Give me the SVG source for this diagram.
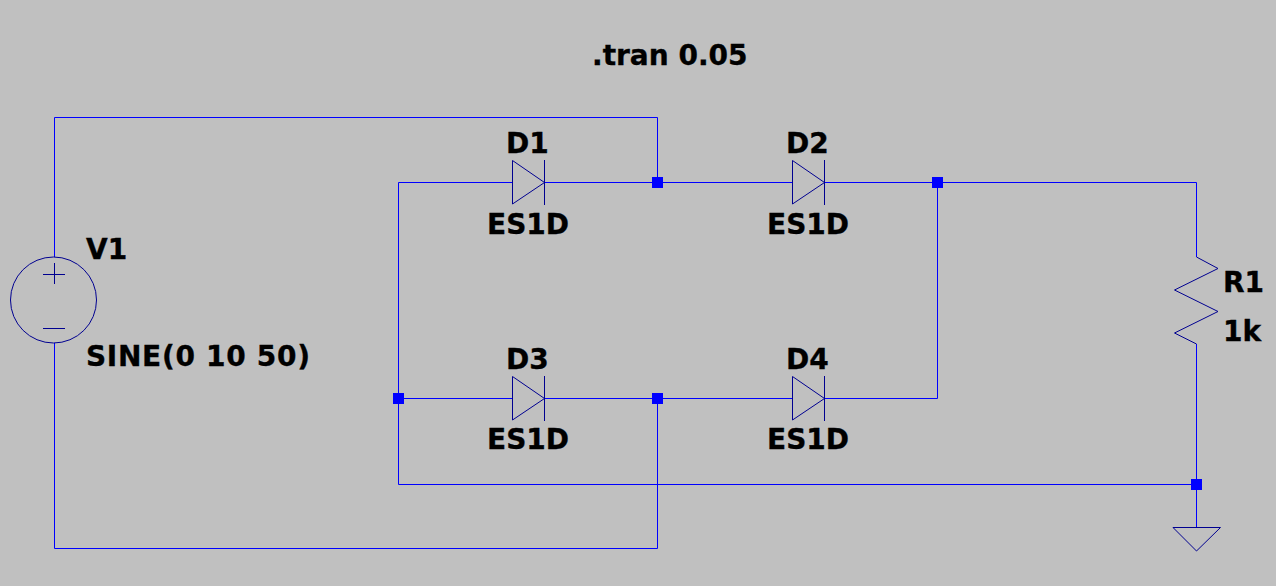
<svg xmlns="http://www.w3.org/2000/svg" width="1276" height="586" viewBox="0 0 1276 586">
<style>
text{font-family:"DejaVu Sans",Verdana,sans-serif;font-weight:700;font-size:28px;fill:#000;stroke:#000;stroke-width:.35}
.w{fill:none;stroke:#0000ff;stroke-width:1}
.s{fill:none;stroke:#000090;stroke-width:1}
.j{fill:#0000ff}
</style>
<defs>
<g id="diode"><path class="s" d="M512.500 160.500V204L544.500 182.500ZM544.500 160V205"/></g>
</defs>
<rect width="1276" height="586" fill="#c0c0c0"/>
<g id="connectors">
<path class="w" d="M54.500 257V117.500H657.500V182.500M54.500 343V548.500H657.500V398.500M398.500 182.500H512M398.500 182.500V484.500H1196.500M544 182.500H792M824 182.500H1196.500V257M937.500 182.500V398.500H824M398.500 398.500H512M544 398.500H792M1196.500 344V527"/>
<rect class="j" x="652" y="177" width="11" height="11"/>
<rect class="j" x="932" y="177" width="11" height="11"/>
<rect class="j" x="393" y="393" width="11" height="11"/>
<rect class="j" x="652" y="393" width="11" height="11"/>
<rect class="j" x="1191" y="479" width="11" height="11"/>
</g>
<g id="V1">
<circle class="s" cx="53.500" cy="300" r="43"/>
<path class="s" d="M43 274.500H65M54.500 263V284M43 328.500H65"/>
<text x="86" y="259">V1</text>
<text x="86" y="366" textLength="224" lengthAdjust="spacing">SINE(0 10 50)</text>
</g>
<g id="D1"><use href="#diode"/><text x="506" y="153">D1</text><text x="487" y="234">ES1D</text></g>
<g id="D2"><use href="#diode" x="280"/><text x="786" y="153">D2</text><text x="767" y="234">ES1D</text></g>
<g id="D3"><use href="#diode" y="216"/><text x="506" y="369">D3</text><text x="487" y="449">ES1D</text></g>
<g id="D4"><use href="#diode" x="280" y="216"/><text x="786" y="369">D4</text><text x="767" y="449">ES1D</text></g>
<g id="R1">
<path class="s" d="M1196.500 257L1218 268.500L1174.500 290L1218 311.500L1174.500 333L1196.500 344"/>
<text x="1223" y="292">R1</text>
<text x="1223" y="341">1k</text>
</g>
<g id="GND"><path class="s" d="M1173 527.500H1220.500L1196.500 551Z"/></g>
<g id="directive"><text x="592" y="65">.tran 0.05</text></g>
</svg>
